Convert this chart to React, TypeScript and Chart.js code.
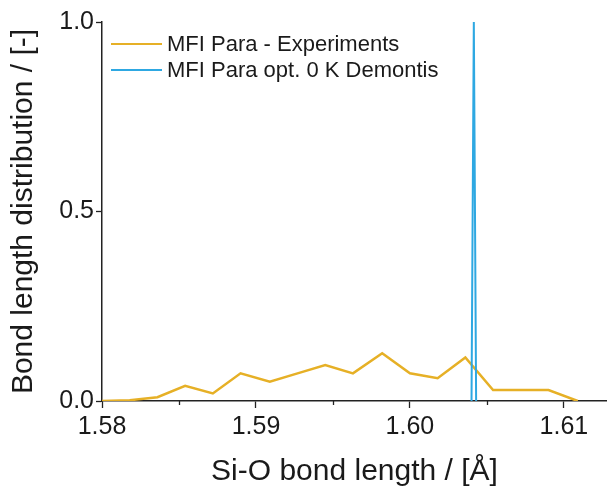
import React, { useEffect, useRef } from "react";
import { Chart, registerables } from "chart.js";

Chart.register(...registerables);

// Experimental bond length distribution (MFI para)
const expX = [1.58, 1.5818, 1.5836, 1.5854, 1.5872, 1.589, 1.5909, 1.5927, 1.5945, 1.5963, 1.5982, 1.6, 1.6018, 1.6036, 1.6054, 1.6072, 1.609, 1.6109];
const expY = [0.0, 0.002, 0.01, 0.04, 0.02, 0.073, 0.051, 0.073, 0.095, 0.073, 0.126, 0.073, 0.06, 0.115, 0.029, 0.029, 0.029, 0.0];

// Optimised 0 K structure (Demontis) – single sharp peak
const demX = [1.604, 1.60415, 1.6043];
const demY = [0.0, 1.0, 0.0];

const seriesLabels = ["MFI Para - Experiments", "MFI Para opt. 0 K Demontis"];
const seriesColors = ["#E6B026", "#2EA8E2"];

const xMin = 1.58;
const xMax = 1.6128;
const xMinorTicks = [1.585, 1.595, 1.605];
const yTicks = [0, 0.5, 1.0];

const FONT = "Arial, 'Liberation Sans', Helvetica, sans-serif";
const TEXT = "#1a1a1a";

const minorTickPlugin = {
  id: "minorTicks",
  afterDraw(chart: any) {
    const xs = chart.scales.x;
    const ctx = chart.ctx;
    ctx.save();
    ctx.strokeStyle = "#222";
    ctx.lineWidth = 1.3;
    const y0 = chart.chartArea.bottom;
    xMinorTicks.forEach((v) => {
      const px = Math.round(xs.getPixelForValue(v)) + 0.5;
      ctx.beginPath();
      ctx.moveTo(px, y0);
      ctx.lineTo(px, y0 + 4);
      ctx.stroke();
    });
    ctx.restore();
  },
};

const insideLegendPlugin = {
  id: "insideLegend",
  afterDraw(chart: any) {
    const ctx = chart.ctx;
    const area = chart.chartArea;
    const x0 = area.left + 9;
    const lineLen = 51;
    const gap = 5;
    const rowH = 26;
    const yFirst = area.top + 22;
    ctx.save();
    ctx.font = `22px ${FONT}`;
    ctx.textBaseline = "middle";
    ctx.textAlign = "left";
    chart.data.datasets.forEach((ds: any, i: number) => {
      const y = yFirst + i * rowH;
      ctx.strokeStyle = ds.borderColor;
      ctx.lineWidth = 2;
      ctx.beginPath();
      ctx.moveTo(x0, y);
      ctx.lineTo(x0 + lineLen, y);
      ctx.stroke();
      ctx.fillStyle = TEXT;
      ctx.fillText(ds.label, x0 + lineLen + gap, y + 1);
    });
    ctx.restore();
  },
};

export default function App() {
  const ref = useRef<HTMLCanvasElement | null>(null);

  useEffect(() => {
    document.body.style.margin = "0";
    document.body.style.background = "#ffffff";
    const toPts = (xs: number[], ys: number[]) => xs.map((x, i) => ({ x, y: ys[i] }));
    const chart = new Chart(ref.current as HTMLCanvasElement, {
      type: "line",
      data: {
        datasets: [
          {
            label: seriesLabels[0],
            data: toPts(expX, expY),
            borderColor: seriesColors[0],
            backgroundColor: seriesColors[0],
            borderWidth: 2.5,
            pointRadius: 0,
            tension: 0,
            order: 2,
          },
          {
            label: seriesLabels[1],
            data: toPts(demX, demY),
            borderColor: seriesColors[1],
            backgroundColor: seriesColors[1],
            borderWidth: 2,
            pointRadius: 0,
            tension: 0,
            order: 1,
          },
        ],
      },
      options: {
        animation: false,
        responsive: false,
        maintainAspectRatio: false,
        layout: { padding: { top: 22, right: 0, left: 0, bottom: 0 } },
        plugins: {
          tooltip: { enabled: false },
          legend: { display: false },
        },
        scales: {
          x: {
            type: "linear",
            min: xMin,
            max: xMax,
            afterFit: (s: any) => {
              s.height = 85;
            },
            ticks: {
              stepSize: 0.01,
              includeBounds: false,
              color: TEXT,
              padding: 4,
              font: { family: FONT, size: 25 },
              callback: (v: any) => Number(v).toFixed(2),
            },
            grid: { drawOnChartArea: false, tickLength: 7, tickColor: "#222", tickWidth: 1.3 },
            border: { color: "#222", width: 1.5 },
            title: {
              display: true,
              text: "Si-O bond length / [Å]",
              color: TEXT,
              font: { family: FONT, size: 30 },
              padding: { top: 0, bottom: -4 },
            },
          },
          y: {
            type: "linear",
            min: 0,
            max: 1,
            afterFit: (s: any) => {
              s.width = 102;
            },
            afterBuildTicks: (s: any) => {
              s.ticks = yTicks.map((v) => ({ value: v }));
            },
            ticks: {
              color: TEXT,
              padding: 2,
              font: { family: FONT, size: 25 },
              callback: (v: any) => Number(v).toFixed(1),
            },
            grid: { drawOnChartArea: false, tickLength: 6, tickColor: "#222", tickWidth: 1.3 },
            border: { color: "#222", width: 1.5 },
            title: {
              display: true,
              text: "Bond length distribution / [-]",
              color: TEXT,
              font: { family: FONT, size: 30 },
              padding: { top: 6, bottom: 0 },
            },
          },
        },
      },
      plugins: [minorTickPlugin, insideLegendPlugin],
    });
    return () => chart.destroy();
  }, []);

  return (
    <div style={{ position: "fixed", left: 0, top: 0, width: 607, height: 486, background: "#fff" }}>
      <canvas ref={ref} width={607} height={486} style={{ width: 607, height: 486 }} />
    </div>
  );
}
